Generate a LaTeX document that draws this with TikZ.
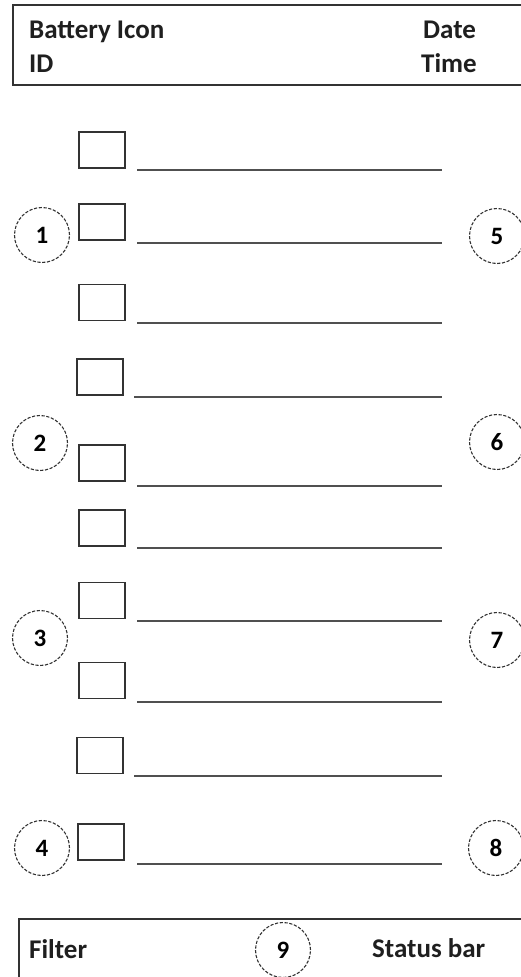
\documentclass[tikz,border=0pt]{standalone}
\usepackage{fontspec}
\setmainfont{Carlito}
\definecolor{ink}{HTML}{333333}
\definecolor{rulegray}{HTML}{505050}

\begin{document}
\begin{tikzpicture}[x=1pt,y=-1pt,
chk/.style={draw=ink,line width=1.8pt,minimum width=46pt,minimum height=36pt,inner sep=0pt},
num/.style={draw=ink,circle,dash pattern=on 3.2pt off 1.6pt,line width=1.1pt,minimum size=55pt,inner sep=0pt,font=\fontsize{25}{27}\selectfont\bfseries},
lbl/.style={font=\fontsize{27}{30}\selectfont\bfseries,text=black!88,inner sep=0pt},
rule/.style={draw=rulegray,line width=2.2pt}]
\useasboundingbox (0,0) rectangle (521,977);
% header and status bar
\draw[ink,line width=1.8pt] (530,5) -- (13,5) -- (13,85) -- (530,85);
\draw[ink,line width=1.8pt] (530,919) -- (19,919) -- (19,990);
\node[lbl,anchor=base west] (bat) at (29,38) {Battery Icon};
\node[lbl,anchor=base west] (id) at (29,72) {ID};
\node[lbl,anchor=base west] (date) at (423,38) {Date};
\node[lbl,anchor=base west] (time) at (421,72) {Time};
\node[lbl,anchor=base west] (filter) at (29,958) {Filter};
\node[lbl,anchor=base west] (status) at (372,957) {Status bar};
% check boxes with their lines
\foreach \n/\bx/\by/\lx/\ly in {1/102/150/137/170, 2/102/222/137/243, 3/102/302.5/137/323,
  4/100/377/134/397, 5/102/463/137/486, 6/102/528/137/548, 7/102/600.5/137/621,
  8/102/680.5/137/702, 9/100/755.5/134/776, 10/101/842/137/864}{
  \node[chk] (box\n) at (\bx,\by) {};
  \coordinate (ls\n) at (\lx,\ly);
  \coordinate (le\n) at (442,\ly);
  \draw[rule] (ls\n) -- (le\n);
}
% numbered markers
\node[num] (m1) at (42,235) {1};
\node[num] (m2) at (40,443) {2};
\node[num] (m3) at (40,638) {3};
\node[num] (m4) at (42,848) {4};
\node[num] (m5) at (497,236) {5};
\node[num] (m6) at (497,442) {6};
\node[num] (m7) at (497,640) {7};
\node[num] (m8) at (496,848) {8};
\node[num] (m9) at (283,950) {9};
\end{tikzpicture}
\end{document}
